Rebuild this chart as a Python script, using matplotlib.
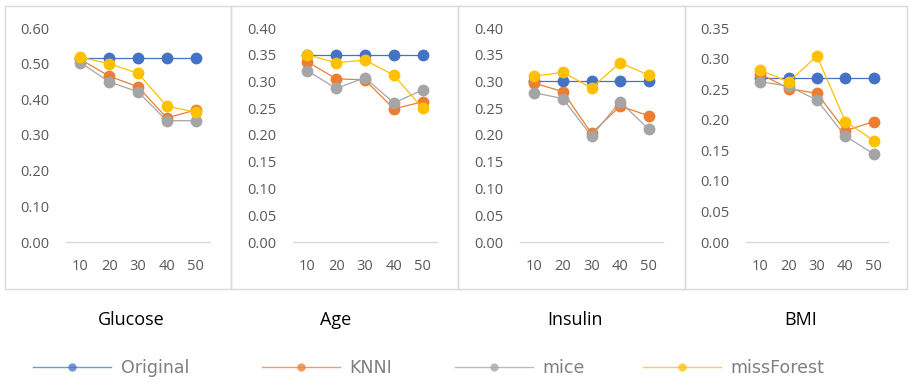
import numpy as np
import matplotlib.pyplot as plt
from matplotlib.patches import Rectangle
from matplotlib.lines import Line2D

#### Datos ####
porcentajes = ['10', '20', '30', '40', '50']
variables = ['Glucose', 'Age', 'Insulin', 'BMI']
metodos = ['Original', 'KNNI', 'mice', 'missForest']
colores = ['#4472C4', '#ED7D31', '#A5A5A5', '#FFC000']

glucose_original = [0.515, 0.515, 0.515, 0.515, 0.515]
glucose_knni = [0.512, 0.465, 0.435, 0.348, 0.370]
glucose_mice = [0.503, 0.449, 0.421, 0.340, 0.340]
glucose_missforest = [0.518, 0.500, 0.473, 0.381, 0.364]

age_original = [0.350, 0.350, 0.350, 0.350, 0.350]
age_knni = [0.337, 0.305, 0.303, 0.249, 0.262]
age_mice = [0.320, 0.287, 0.307, 0.260, 0.284]
age_missforest = [0.350, 0.335, 0.340, 0.312, 0.250]

insulin_original = [0.301, 0.301, 0.301, 0.301, 0.301]
insulin_knni = [0.297, 0.281, 0.203, 0.254, 0.236]
insulin_mice = [0.279, 0.268, 0.198, 0.262, 0.211]
insulin_missforest = [0.310, 0.317, 0.288, 0.335, 0.312]

bmi_original = [0.269, 0.269, 0.269, 0.269, 0.269]
bmi_knni = [0.275, 0.251, 0.243, 0.182, 0.197]
bmi_mice = [0.262, 0.255, 0.232, 0.173, 0.144]
bmi_missforest = [0.281, 0.262, 0.304, 0.197, 0.166]

series = [
    [glucose_original, glucose_knni, glucose_mice, glucose_missforest],
    [age_original, age_knni, age_mice, age_missforest],
    [insulin_original, insulin_knni, insulin_mice, insulin_missforest],
    [bmi_original, bmi_knni, bmi_mice, bmi_missforest],
]
y_max = [0.60, 0.40, 0.40, 0.35]
y_paso = [0.10, 0.05, 0.05, 0.05]

#### Layout en pixeles ####
W, H = 909, 383
ejes_x = [(66, 210), (293, 437), (520, 663), (746, 888)]
paneles = [(5, 231), (231, 458), (458, 685), (685, 907)]
titulo_x = [131, 336, 575, 801]
leyenda_x = [33, 262, 455, 643]

gris_texto = '#595959'
gris_linea = '#D9D9D9'

fig = plt.figure(figsize=(W / 100, H / 100), dpi=100)

#### Bordes de paneles ####
for x0, x1 in paneles:
    fig.patches.append(Rectangle((x0 / W, 1 - 289 / H), (x1 - x0) / W, (289 - 6) / H,
                                 transform=fig.transFigure, fill=False,
                                 edgecolor=gris_linea, linewidth=1.0))

x = np.arange(len(porcentajes))
for i in range(4):
    x0, x1 = ejes_x[i]
    ax = fig.add_axes([x0 / W, 1 - 242 / H, (x1 - x0) / W, (242 - 28) / H])
    for j in range(4):
        ax.plot(x, series[i][j], color=colores[j], linewidth=0.9,
                marker='o', markersize=8.5, markeredgewidth=0)
    ax.set_xlim(-0.5, len(porcentajes) - 0.5)
    ax.set_ylim(0, y_max[i])
    ax.set_yticks(np.arange(0, y_max[i] + 1e-9, y_paso[i]))
    ax.yaxis.set_major_formatter(plt.FormatStrFormatter('%.2f'))
    ax.set_xticks(x)
    ax.set_xticklabels(porcentajes)
    for s in ['top', 'left', 'right']:
        ax.spines[s].set_visible(False)
    ax.spines['bottom'].set_color(gris_linea)
    ax.spines['bottom'].set_linewidth(1.0)
    ax.tick_params(length=0, labelsize=10.5, labelcolor=gris_texto, pad=12)
    for lbl in ax.get_xticklabels() + ax.get_yticklabels():
        lbl.set_fontfamily('Open Sans')
    ax.patch.set_alpha(0)
    fig.text(titulo_x[i] / W, 1 - 320 / H, variables[i], ha='center', va='center',
             fontsize=13, family='Open Sans', color='black')

#### Leyenda ####
for j in range(4):
    h = Line2D([], [], color=colores[j], linewidth=1.0, alpha=0.75,
               marker='o', markersize=6, markeredgewidth=0)
    fig.legend([h], [metodos[j]], loc='center left',
               bbox_to_anchor=(leyenda_x[j] / W, 1 - 368 / H),
               frameon=False, borderpad=0, borderaxespad=0,
               handlelength=4.5, handletextpad=0.55,
               prop={'family': 'DejaVu Sans', 'size': 12.5},
               labelcolor='#7F7F7F')

plt.savefig('out.png', dpi=100)
